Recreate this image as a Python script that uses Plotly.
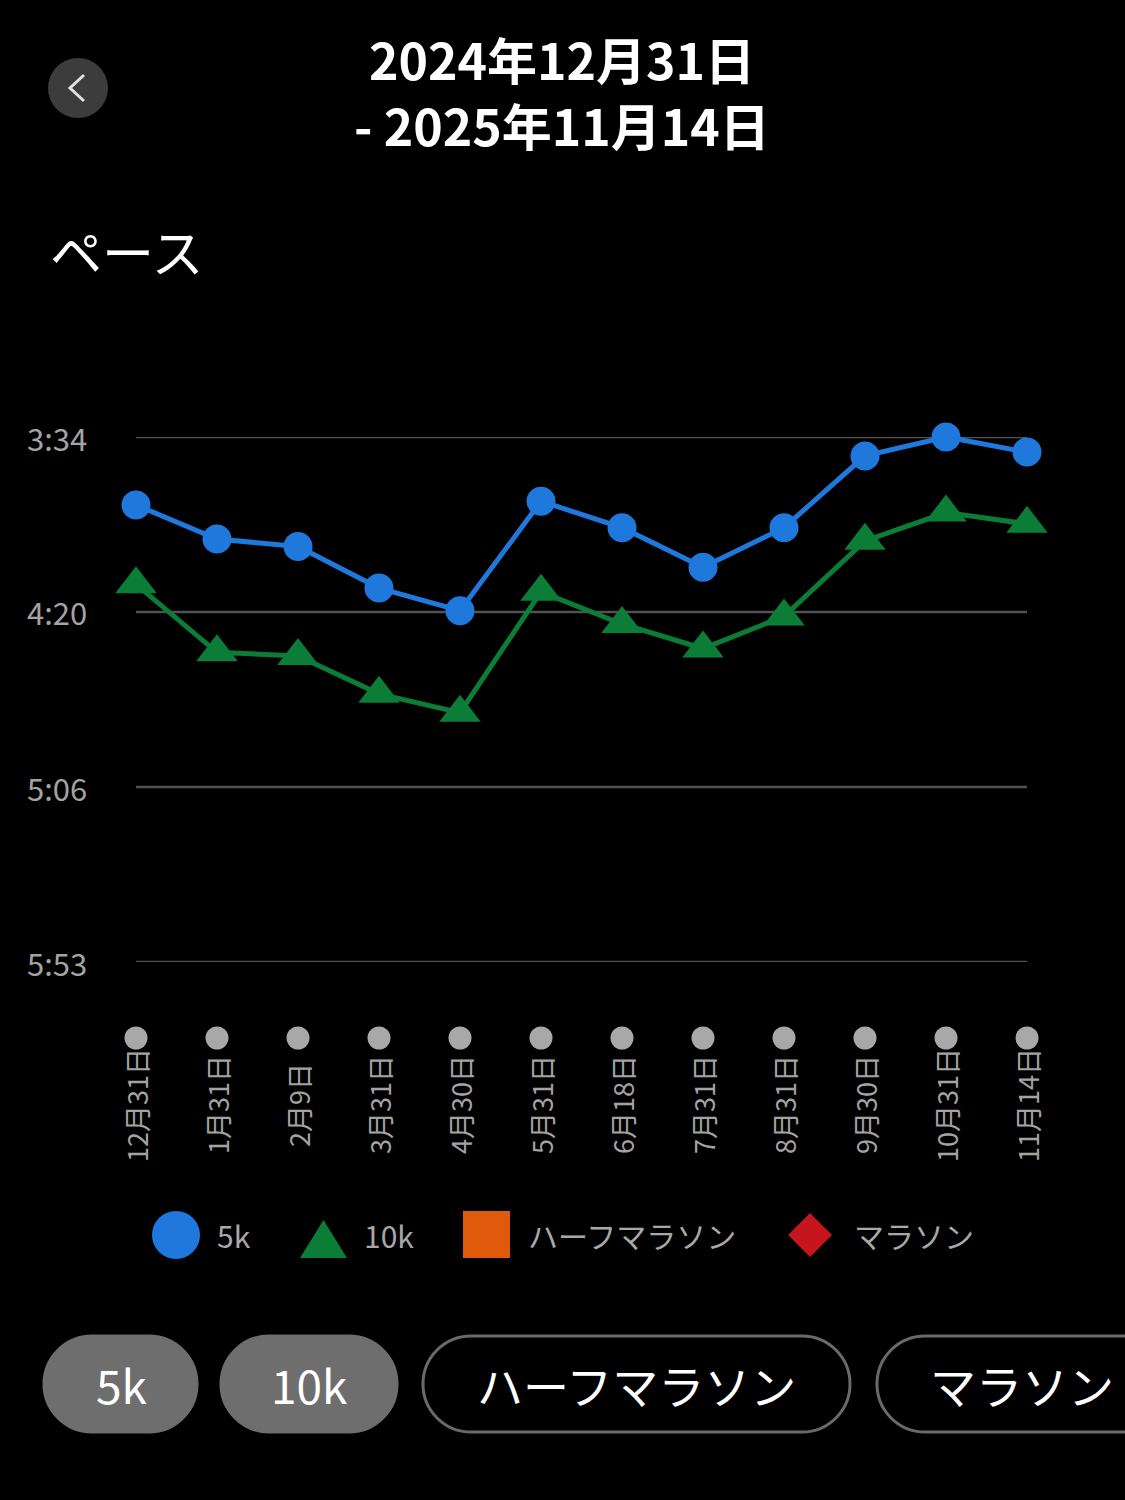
import plotly.graph_objects as go

# pace data (seconds per km)
dates = ["12月31日", "1月31日", "2月9日", "3月31日", "4月30日", "5月31日",
         "6月18日", "7月31日", "8月31日", "9月30日", "10月31日", "11月14日"]
pace_5k = [232, 241, 243, 254, 260, 231, 238, 248.5, 238, 219, 214, 218]
pace_10k = [253, 271, 272, 282, 287, 255, 263.5, 270, 261.5, 241.5, 234, 237]

y_ticks = [214, 260.33, 306.67, 353]
y_tick_labels = ["3:34", "4:20", "5:06", "5:53"]

legend_names = ["5k", "10k", "ハーフマラソン", "マラソン"]
legend_colors = ["#1f78dc", "#0b7d37", "#e05a0c", "#c4161c"]
button_names = ["5k", "10k", "ハーフマラソン", "マラソン"]

FONT = "Noto Sans CJK JP"
W, H = 1125, 1500
L, R, T, B = 136, 1027, 437, 962


def fx(p):
    return (p - L) / (R - L)


def fy(p):
    return (B - p) / (B - T)


def poly(points, close=True):
    s = "M" + " L".join(f"{fx(a):.5f},{fy(b):.5f}" for a, b in points)
    return s + (" Z" if close else "")


def pill(x0, y0, x1, y1):
    # rounded pill outline in paper coords, built from pixel corners
    r = (y1 - y0) / 2
    k = 0.5523 * r
    pts = [
        ("M", [(x0 + r, y0)]),
        ("L", [(x1 - r, y0)]),
        ("C", [(x1 - r + k, y0), (x1, y0 + r - k), (x1, y0 + r)]),
        ("C", [(x1, y0 + r + k), (x1 - r + k, y1), (x1 - r, y1)]),
        ("L", [(x0 + r, y1)]),
        ("C", [(x0 + r - k, y1), (x0, y0 + r + k), (x0, y0 + r)]),
        ("C", [(x0, y0 + r - k), (x0 + r - k, y0), (x0 + r, y0)]),
    ]
    s = ""
    for cmd, ps in pts:
        s += cmd + " ".join(f"{fx(a):.5f},{fy(b):.5f}" for a, b in ps) + " "
    return s + "Z"


def label(x, y, text, size, color="white", xanchor="center", xref="paper",
          yref="paper", angle=0):
    return dict(x=x, y=y, xref=xref, yref=yref, text=text, showarrow=False,
                xanchor=xanchor, yanchor="middle", textangle=angle,
                font=dict(family=FONT, size=size, color=color))


fig = go.Figure()

fig.add_trace(go.Scatter(
    x=dates, y=pace_5k, mode="lines+markers", name="5k",
    line=dict(color=legend_colors[0], width=5),
    marker=dict(symbol="circle", size=29, color=legend_colors[0]),
    cliponaxis=False, showlegend=False,
))
fig.add_trace(go.Scatter(
    x=dates, y=pace_10k, mode="lines+markers", name="10k",
    line=dict(color=legend_colors[1], width=5),
    marker=dict(symbol="triangle-up", size=36, color=legend_colors[1]),
    cliponaxis=False, showlegend=False,
))

shapes = []
annotations = []

# horizontal grid lines
for v in y_ticks:
    shapes.append(dict(type="line", xref="paper", yref="y", x0=0, x1=1, y0=v, y1=v,
                       line=dict(color="#525252", width=2.5), layer="below"))

for v, lab in zip(y_ticks, y_tick_labels):
    annotations.append(label(fx(25), v, lab, 31, "#a3a3a3", xanchor="left", yref="y"))

# date labels with grey dots above them
step = 1 / (len(dates) - 1)
for i, d in enumerate(dates):
    cx = i * step
    shapes.append(dict(type="circle", xref="paper", yref="paper",
                       x0=cx - 11.5 / (R - L), x1=cx + 11.5 / (R - L),
                       y0=fy(1049.5), y1=fy(1026.5),
                       fillcolor="#a8a8a8", line=dict(width=0)))
    annotations.append(label(d, fy(1105), d, 27, "#a3a3a3", xref="x", angle=-90))

# custom legend
shapes.append(dict(type="circle", xref="paper", yref="paper",
                   x0=fx(152), x1=fx(200), y0=fy(1259), y1=fy(1211),
                   fillcolor=legend_colors[0], line=dict(width=0)))
shapes.append(dict(type="path", xref="paper", yref="paper",
                   path=poly([(300, 1258), (347, 1258), (323.5, 1220)]),
                   fillcolor=legend_colors[1], line=dict(width=0)))
shapes.append(dict(type="rect", xref="paper", yref="paper",
                   x0=fx(463), x1=fx(510), y0=fy(1258), y1=fy(1211),
                   fillcolor=legend_colors[2], line=dict(width=0)))
shapes.append(dict(type="path", xref="paper", yref="paper",
                   path=poly([(810, 1213), (832, 1235), (810, 1257), (788, 1235)]),
                   fillcolor=legend_colors[3], line=dict(width=0)))
text_x = [215, 362, 526, 852]
for i, name in enumerate(legend_names):
    annotations.append(label(fx(text_x[i]), fy(1235), name, 30, "#a8a8a8", xanchor="left"))

# header
annotations += [
    label(fx(562), fy(58), "<b>2024年12月31日</b>", 50),
    label(fx(562), fy(124), "<b>- 2025年11月14日</b>", 50),
    label(fx(48), fy(250), "ペース", 52, xanchor="left"),
]

# bottom filter buttons
btn_x = [(44, 197), (221, 397), (423, 850), (877, 1170)]
btn_fill = ["#6e6e6e", "#6e6e6e", "black", "black"]
btn_line = ["#6e6e6e", "#6e6e6e", "#6a6a6a", "#6a6a6a"]
btn_text_x = [121, 309, 636, 1022]
for i, name in enumerate(button_names):
    x0, x1 = btn_x[i]
    shapes.append(dict(type="path", path=pill(x0, 1336, x1, 1432), xref="paper",
                       yref="paper", fillcolor=btn_fill[i],
                       line=dict(color=btn_line[i], width=3)))
    annotations.append(label(fx(btn_text_x[i]), fy(1384), name, 46))

# back button
shapes.append(dict(type="circle", xref="paper", yref="paper",
                   x0=fx(48), x1=fx(108), y0=fy(118), y1=fy(58),
                   fillcolor="#3c3c3c", line=dict(width=0)))
shapes.append(dict(type="path", xref="paper", yref="paper",
                   path=poly([(84, 75), (70, 88), (84, 101)], close=False),
                   line=dict(color="#e0e0e0", width=3)))

fig.update_layout(
    width=W, height=H, autosize=False,
    margin=dict(l=L, r=W - R, t=T, b=H - B, pad=0),
    paper_bgcolor="black", plot_bgcolor="black",
    font=dict(family=FONT, color="white"),
    xaxis=dict(type="category", range=[0, len(dates) - 1], showgrid=False,
               zeroline=False, showticklabels=False, showline=False, fixedrange=True),
    yaxis=dict(range=[y_ticks[-1], y_ticks[0]], showgrid=False, showticklabels=False,
               zeroline=False, showline=False),
    shapes=shapes, annotations=annotations,
)

fig.write_html("out.html", config={"displayModeBar": False},
               post_script="document.body.style.margin='0';")
